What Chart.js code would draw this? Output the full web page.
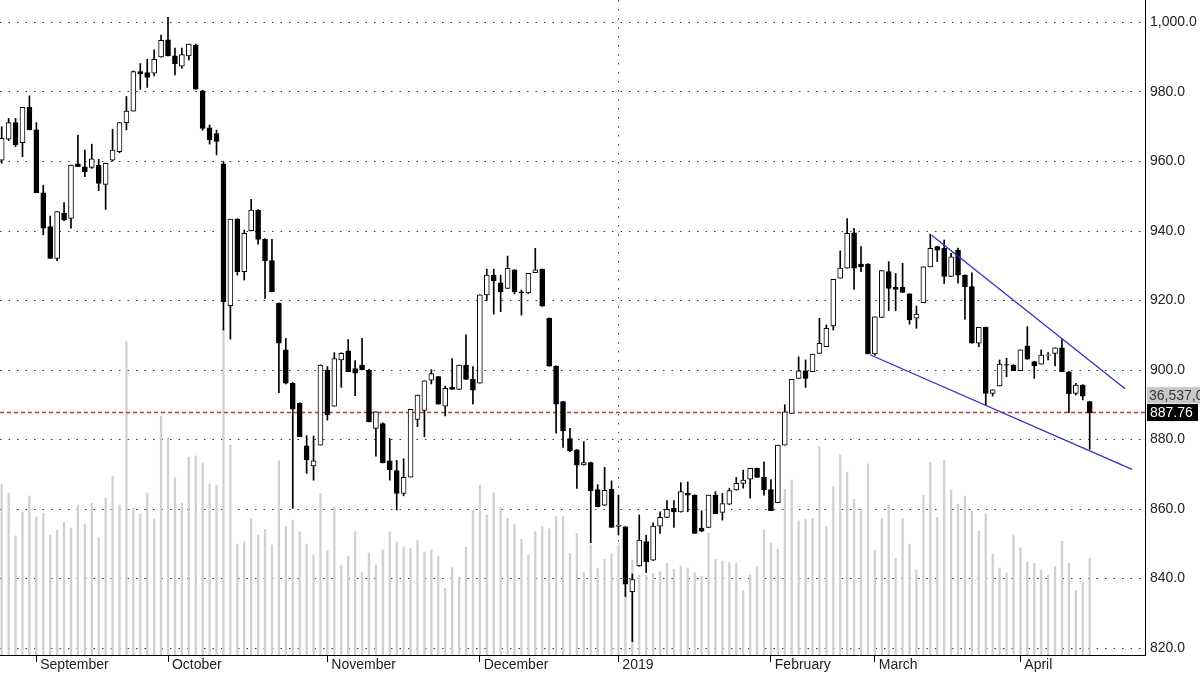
<!DOCTYPE html>
<html><head><meta charset="utf-8">
<script src="https://cdn.jsdelivr.net/npm/chart.js@4/dist/chart.umd.min.js"></script>
<style>html,body{margin:0;padding:0;background:#fff;overflow:hidden}#wrap{width:1200px;height:674px}</style>
</head><body><div id="wrap"><canvas id="c" width="1200" height="674"></canvas></div>
<script>
const open = [
960.4,966.4,971.2,965.4,975.6,969.1,951.0,941.3,932.1,945.1,
943.6,959.3,958.5,958.3,959.0,953.4,960.4,962.8,971.2,974.5,
985.9,985.6,985.4,990.1,995.0,990.4,987.4,990.4,993.5,980.3,
969.7,968.0,959.3,918.5,943.4,928.3,940.1,946.0,937.6,931.5,
919.2,905.8,896.2,890.4,878.2,872.4,878.4,900.0,889.6,902.9,
905.5,900.4,901.4,900.0,883.2,884.6,873.9,871.1,864.5,869.2,
885.8,888.4,897.1,898.1,889.6,895.0,894.4,901.4,897.3,896.2,
921.6,927.3,925.1,923.5,928.8,922.5,922.2,928.0,929.0,914.9,
901.1,890.9,880.3,877.0,872.7,873.4,865.6,861.1,865.7,855.0,
854.9,836.2,843.6,850.6,845.3,855.1,857.6,860.2,859.2,864.5,
864.0,854.5,854.7,864.0,859.0,861.4,865.5,867.4,868.6,871.7,
869.1,865.6,861.8,878.4,887.5,897.6,899.8,899.5,904.8,906.7,
912.7,926.4,929.3,939.5,930.5,930.5,904.6,915.1,928.3,923.8,
923.8,921.9,914.9,919.4,929.7,935.5,935.0,926.9,934.5,927.3,
924.0,907.7,912.3,893.3,895.4,901.6,901.4,899.8,906.9,902.4,
901.7,904.2,904.8,906.4,899.5,893.3,895.7,890.9];
const high = [
970.0,972.4,972.4,975.6,978.9,971.2,953.2,944.3,945.6,948.2,
959.0,967.6,963.3,965.0,960.6,959.5,969.3,971.2,978.7,986.1,
988.2,989.4,992.1,996.4,1001.5,992.6,992.6,993.8,993.8,980.5,
970.5,969.0,960.0,943.4,943.6,940.3,949.1,946.2,937.8,937.6,
919.3,909.1,896.4,890.6,881.1,881.0,901.5,901.0,905.0,905.0,
908.8,902.7,909.1,900.2,888.0,884.8,880.3,874.0,874.5,888.7,
892.8,896.9,900.1,898.2,895.4,903.3,901.4,910.1,901.0,921.6,
929.0,929.0,927.3,932.8,928.9,923.0,927.8,935.0,929.1,915.0,
901.2,891.0,883.2,877.1,879.4,873.5,867.0,872.0,868.1,864.0,
855.0,841.3,858.3,852.5,856.0,859.2,862.4,862.4,867.6,867.8,
864.1,859.5,864.0,865.0,864.5,866.0,869.1,871.2,871.7,871.8,
873.6,868.5,878.4,890.0,897.3,903.8,902.9,904.6,914.9,913.0,
926.1,934.3,943.6,940.8,935.5,930.6,915.3,928.6,931.2,927.8,
930.7,922.0,918.4,929.7,939.1,935.6,937.4,933.6,935.1,927.4,
928.0,912.3,912.4,894.3,902.9,903.4,901.5,905.8,912.5,902.5,
905.8,905.0,906.4,908.8,899.6,896.2,895.8,891.0];
const low = [
959.5,966.0,964.3,961.4,969.1,951.0,938.9,932.1,931.5,943.0,
940.8,958.5,955.6,958.0,951.6,946.2,960.1,962.5,969.1,974.5,
980.8,981.3,984.6,990.0,990.4,984.9,986.8,989.2,980.8,969.0,
965.0,961.9,911.5,908.9,927.3,925.9,940.0,936.2,920.6,922.5,
893.5,896.0,860.2,880.8,870.3,868.3,878.4,885.6,889.6,895.0,
899.5,892.6,900.0,885.1,875.2,873.3,868.3,859.7,863.8,869.2,
883.7,880.8,896.0,890.2,886.8,894.4,894.4,897.3,890.2,896.2,
920.0,916.1,916.8,923.5,921.9,915.8,922.0,928.0,918.4,901.1,
881.8,877.7,876.5,865.9,872.6,850.3,860.6,861.0,854.7,852.5,
834.8,821.8,843.5,841.7,845.2,853.0,857.5,854.7,859.1,859.2,
853.0,853.5,854.6,858.7,856.8,861.3,865.4,866.0,863.1,869.1,
864.0,859.5,861.8,878.4,887.5,897.6,895.0,899.5,904.8,906.7,
911.5,926.4,929.3,923.2,928.3,904.6,904.3,915.1,917.1,917.1,
922.3,913.2,912.0,919.4,929.7,931.2,924.9,926.9,925.0,914.6,
907.7,906.7,889.9,892.5,895.4,898.1,899.8,899.8,903.1,897.6,
901.7,902.9,901.2,899.5,887.7,892.8,891.4,877.2];
const close = [
966.7,971.2,964.8,975.6,969.1,951.0,940.8,932.1,945.6,943.2,
959.0,958.5,957.1,960.8,953.7,959.5,963.3,971.2,974.5,985.9,
985.2,984.2,989.4,994.9,990.4,988.1,990.8,993.8,980.8,969.5,
966.3,965.8,919.7,943.4,928.3,939.3,946.0,937.6,931.5,922.5,
907.7,896.2,888.7,880.8,874.1,873.9,901.4,887.1,903.3,904.8,
899.5,899.1,900.1,885.1,888.0,873.3,871.3,864.5,869.1,888.7,
892.8,896.9,899.0,890.2,894.7,894.4,901.4,897.3,894.2,921.6,
927.3,925.7,922.5,929.3,922.5,922.2,927.8,928.8,918.4,901.1,
890.2,882.5,876.8,872.6,873.4,865.3,860.7,865.4,854.7,855.4,
838.4,839.7,851.1,844.8,855.1,857.6,859.9,859.2,865.0,864.0,
853.0,853.6,864.0,858.7,861.6,865.3,867.4,868.3,871.7,869.1,
865.6,859.5,878.4,888.0,897.3,899.8,897.6,904.6,907.7,912.0,
926.1,929.3,939.3,929.3,929.7,904.6,915.3,928.6,923.5,923.2,
922.3,914.4,916.1,929.7,935.0,934.5,926.9,932.6,927.3,924.0,
907.7,912.3,893.3,894.3,901.7,901.4,899.8,905.8,903.1,901.2,
904.3,904.4,906.4,899.5,893.1,895.7,892.5,887.76];
// volume, millions
const volume = [
64.6,61.2,45.0,54.0,60.1,52.1,53.6,45.3,47.2,50.2,
48.0,56.7,49.5,57.4,44.2,59.3,67.6,56.7,118.3,55.5,
53.3,61.2,51.4,90.3,82.0,66.9,57.4,74.8,75.2,72.4,
64.6,64.2,122.8,79.3,41.9,42.7,51.6,45.3,47.5,41.6,
73.4,48.5,51.0,46.6,41.9,37.8,61.1,39.4,56.0,34.0,
37.4,46.6,31.1,38.6,34.0,39.7,46.6,42.7,40.9,40.3,
43.4,39.0,39.7,37.4,25.2,33.1,29.4,40.7,54.8,64.2,
52.9,61.3,55.8,51.6,49.5,43.7,37.8,46.6,48.5,47.7,
52.3,52.3,38.4,46.0,31.1,41.6,32.8,36.2,38.2,41.6,
35.9,35.9,30.2,30.2,30.9,31.5,34.6,32.4,33.6,32.8,
31.1,29.8,46.0,36.2,35.5,34.9,34.6,24.3,30.2,33.4,
47.2,42.2,39.9,62.6,66.1,50.7,51.3,51.6,78.7,48.5,
63.7,75.7,69.1,58.8,55.0,72.2,39.6,51.6,56.7,36.5,
51.6,41.9,32.1,60.4,72.8,52.0,73.6,62.2,57.0,60.0,
54.3,46.8,53.4,38.2,32.9,31.0,45.3,40.5,35.1,34.6,
32.1,30.2,33.4,43.0,34.6,24.4,27.4,36.537];
const monthLabels = ['September','October','November','December','2019','February','March','April'];
const monthIndex = [5,24,47,69,89,111,126,147];
const priceTicks = [820,840,860,880,900,920,940,960,980,1000];
const upperTrendIdx = [134.2,162.1];
const upperTrendVal = [938.8,894.6];
const lowerTrendIdx = [125.3,163.1];
const lowerTrendVal = [904.4,871.4];

const N = open.length;
const idx = open.map((_, i) => i);
const lastClose = close[N - 1];
const bodies = idx.map(i => ({x: i, y: [open[i], close[i]]}));
const wicks = idx.map(i => ({x: i, y: [low[i], high[i]]}));
const vols = idx.map(i => ({x: i, y: volume[i]}));
const bodyColors = idx.map(i => close[i] >= open[i] ? '#ffffff' : '#000000');
const X_MIN = -0.245, X_MAX = 164.98;

Chart.defaults.font.family = '"Liberation Sans", Arial, sans-serif';
Chart.defaults.font.size = 14;
Chart.defaults.color = '#222';

const boxPlugin = {
  id: 'lastBoxes',
  afterDraw(chart) {
    const ctx = chart.ctx;
    const ys = chart.scales.y;
    const y = ys.getPixelForValue(lastClose);
    const x0 = chart.chartArea.right + 2;
    ctx.save();
    ctx.fillStyle = '#c8c8c8';
    ctx.fillRect(x0, y - 25.5, 1200 - x0, 16.5);
    ctx.fillStyle = '#000';
    ctx.fillRect(x0, y - 8.5, 51, 17);
    ctx.font = '14px "Liberation Sans", Arial, sans-serif';
    ctx.textBaseline = 'middle';
    ctx.textAlign = 'left';
    ctx.fillStyle = '#333';
    ctx.fillText(Math.round(volume[N - 1] * 1e6).toLocaleString('en-US'), x0 + 2, y - 16.5);
    ctx.fillStyle = '#fff';
    ctx.fillText(lastClose.toFixed(2), x0 + 3, y + 0.5);
    ctx.restore();
  }
};

new Chart(document.getElementById('c'), {
  type: 'bar',
  data: {
    datasets: [
      {type: 'line', label: 'upper', data: upperTrendIdx.map((x, k) => ({x, y: upperTrendVal[k]})),
       borderColor: '#3030c8', borderWidth: 1.3, pointRadius: 0, yAxisID: 'y', order: 1},
      {type: 'line', label: 'lower', data: lowerTrendIdx.map((x, k) => ({x, y: lowerTrendVal[k]})),
       borderColor: '#3030c8', borderWidth: 1.3, pointRadius: 0, yAxisID: 'y', order: 1},
      {label: 'body', data: bodies, backgroundColor: bodyColors, borderColor: '#000', borderWidth: 1,
       borderSkipped: false, barThickness: 5, grouped: false, yAxisID: 'y', order: 3},
      {label: 'wick', data: wicks, backgroundColor: '#000', borderWidth: 0, barThickness: 1,
       grouped: false, yAxisID: 'y', order: 4},
      {type: 'line', label: 'last', data: [{x: X_MIN, y: lastClose}, {x: X_MAX, y: lastClose}],
       borderColor: '#c23a32', borderWidth: 1.5, borderDash: [4, 3], pointRadius: 0, yAxisID: 'y', order: 5},
      {label: 'volume', data: vols, backgroundColor: '#d0d0d0', borderWidth: 0, barThickness: 1.6,
       grouped: false, yAxisID: 'yv', order: 6}
    ]
  },
  options: {
    responsive: false,
    maintainAspectRatio: false,
    devicePixelRatio: 1,
    animation: false,
    layout: {padding: 0},
    plugins: {legend: {display: false}, tooltip: {enabled: false}},
    scales: {
      x: {
        type: 'linear', min: X_MIN, max: X_MAX, position: 'bottom', offset: false,
        afterBuildTicks: (s) => { s.ticks = monthIndex.map(v => ({value: v})); },
        afterFit: (s) => { s.height = 19; s.paddingLeft = 0; s.paddingRight = 0; },
        ticks: {
          autoSkip: false, maxRotation: 0, minRotation: 0, align: 'start', padding: -5,
          color: '#222',
          callback: (v, i) => ' ' + monthLabels[i]
        },
        grid: {
          offset: false,
          color: (c) => (c.index === 4 ? '#444' : 'rgba(0,0,0,0)'),
          tickColor: '#000', tickLength: 7, tickWidth: 1, lineWidth: 1
        },
        border: {display: true, color: '#000', width: 1, dash: [1.5, 7.5]}
      },
      y: {
        type: 'linear', position: 'right', min: 818.0, max: 1006.47,
        afterBuildTicks: (s) => { s.ticks = priceTicks.map(v => ({value: v})); },
        afterFit: (s) => { s.width = 55; s.paddingTop = 0; s.paddingBottom = 0; },
        ticks: {
          padding: 5, color: '#222',
          callback: (v) => Number(v).toLocaleString('en-US', {minimumFractionDigits: 1, maximumFractionDigits: 1})
        },
        grid: {color: '#333', drawTicks: false, lineWidth: 1},
        border: {display: true, color: '#000', width: 1, dash: [1.5, 7]}
      },
      yv: {
        type: 'linear', display: false, min: 0, max: 247.5
      }
    }
  },
  plugins: [boxPlugin]
});
</script>
</body></html>
